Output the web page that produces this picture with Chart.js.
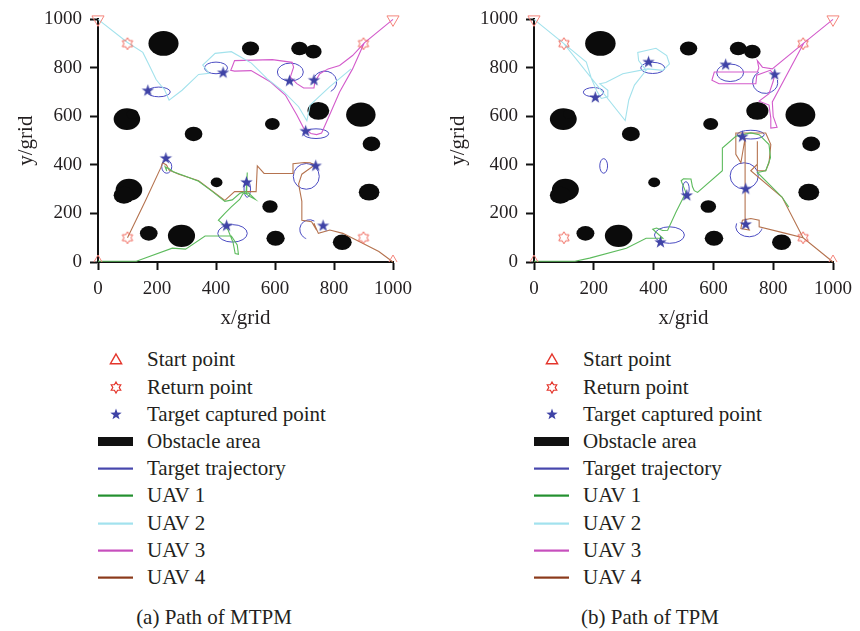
<!DOCTYPE html>
<html>
<head>
<meta charset="utf-8">
<script src="https://cdn.jsdelivr.net/npm/chart.js@4/dist/chart.umd.min.js"></script>
<style>
body{margin:0;background:#fff;}
#wrap{position:relative;width:860px;height:631px;font-family:"Liberation Serif",serif;color:#231f20;overflow:hidden;}
.box{position:absolute;top:0;}
.leg{position:absolute;top:0;font-size:21px;}
.row{position:absolute;left:0;height:27px;white-space:nowrap;}
.row canvas{position:absolute;left:0;top:0;}
.row span{position:absolute;left:49px;top:0;line-height:27px;}
.cap{position:absolute;top:603px;width:300px;text-align:center;font-size:21px;line-height:28px;}
</style>
</head>
<body>
<div id="wrap">
  <div class="box" style="left:0;width:420px;height:340px"><canvas id="mtpm" width="420" height="340"></canvas></div>
  <div class="box" style="left:430px;width:430px;height:340px"><canvas id="tpm" width="430" height="340"></canvas></div>
  <div class="leg" id="legA" style="left:98px"></div>
  <div class="leg" id="legB" style="left:534px"></div>
  <div class="cap" style="left:64px">(a) Path of MTPM</div>
  <div class="cap" style="left:500px">(b) Path of TPM</div>
</div>
<script>
// ---- 축 눈금
const axisTicks = [0, 200, 400, 600, 800, 1000];

// ---- 공통 지점
const startPts = [[0, 1000], [1000, 1000], [0, 0], [1000, 0]];
const startRot = [180, 180, 0, 0];
const returnPts = [[100, 900], [900, 900], [100, 100], [900, 100]];

// 장애물 [x, y, 반지름]
const obstacles = [
  [222, 901, 51], [517, 880, 29], [683, 880, 28], [730, 867, 28],
  [98, 589, 45], [117, 609, 20], [324, 528, 30], [591, 569, 25],
  [747, 623, 37], [891, 607, 50], [927, 487, 30], [402, 328, 20],
  [105, 298, 45], [88, 275, 35], [583, 229, 26], [919, 288, 35],
  [172, 118, 30], [283, 108, 46], [602, 98, 31], [828, 81, 32]
];

// ---- (a) MTPM
// 목표 궤적 [x, y, rx, ry, 시작각, 끝각]
const mtpmTargets = [
  [206, 701, 39, 20, 0, 360], [400, 800, 39, 24, 0, 360], [652, 783, 44, 37, 0, 360],
  [769, 742, 40, 45, -60, 150], [739, 529, 43, 20, 0, 360], [233, 393, 17, 27, 0, 360],
  [506, 301, 11, 34, 0, 360], [456, 118, 50, 36, 0, 360], [706, 353, 44, 53, 0, 360],
  [717, 134, 33, 40, 60, 250]
];
const mtpmCaptured = [[169, 706], [424, 780], [649, 746], [732, 749], [704, 539],
  [230, 427], [503, 328], [436, 149], [738, 396], [763, 149]];
const mtpmUav1 = [[0, 3], [130, 3], [252, 57], [297, 53], [363, 107], [452, 107], [472, 70], [476, 32],
  [465, 35], [458, 80], [441, 132], [420, 160], [408, 172], [430, 200], [452, 227], [480, 258],
  [491, 281], [510, 285], [533, 258], [515, 270], [502, 281], [506, 369], [504, 292], [482, 284],
  [455, 256], [430, 250], [386, 292], [341, 333], [290, 357], [255, 372], [240, 385], [230, 390],
  [233, 375], [226, 398]];
const mtpmUav2 = [[0, 1000], [100, 905], [152, 864], [174, 810], [197, 752], [205, 740], [215, 725],
  [225, 712], [241, 667], [285, 708], [341, 773], [377, 778], [355, 812], [397, 860], [452, 867],
  [520, 820], [574, 755], [630, 701], [680, 640], [708, 582], [719, 647], [785, 722], [858, 796]];
const mtpmUav3 = [[1000, 1000], [902, 902], [863, 796], [819, 701], [785, 606], [758, 532], [741, 525],
  [722, 530], [697, 552], [674, 606], [635, 688], [585, 742], [519, 789], [463, 787], [450, 790],
  [455, 805], [463, 830], [591, 834], [658, 823], [663, 803], [652, 762], [674, 735], [697, 717],
  [732, 717], [735, 742], [752, 776], [780, 796], [819, 810], [863, 851], [902, 902]];
const mtpmUav4 = [[100, 100], [160, 250], [213, 389], [219, 409], [232, 400], [241, 379], [274, 362],
  [341, 335], [430, 254], [463, 290], [536, 290], [540, 396], [563, 365], [658, 365], [661, 405],
  [700, 410], [719, 409], [735, 400], [691, 362], [680, 321], [691, 250], [691, 172], [724, 166],
  [741, 131], [732, 160], [747, 118], [786, 132], [830, 118], [897, 77], [952, 43], [1000, 0]];

// ---- (b) TPM
const tpmTargets = [
  [199, 700, 34, 19, 0, 360], [397, 800, 40, 23, 0, 360], [656, 780, 45, 36, 0, 360],
  [773, 742, 42, 47, 120, 370], [725, 525, 45, 18, 0, 360], [233, 396, 13, 30, 0, 360],
  [508, 301, 11, 30, 0, 360], [453, 111, 50, 34, 0, 360], [703, 355, 47, 54, 0, 360],
  [719, 145, 44, 41, 160, 350]
];
const tpmCaptured = [[383, 824], [205, 678], [641, 813], [805, 772], [697, 516],
  [708, 301], [708, 155], [511, 274], [423, 81]];
const tpmUav1 = [[0, 3], [137, 3], [186, 16], [309, 57], [375, 98], [431, 98], [397, 135], [410, 140],
  [430, 130], [447, 131], [475, 206], [497, 260], [508, 287], [497, 320], [492, 335], [500, 343],
  [525, 342], [530, 310], [536, 294], [547, 287], [630, 376], [630, 470], [675, 518], [725, 532],
  [753, 525], [786, 484], [791, 430], [775, 376], [747, 369], [830, 267], [852, 226]];
const tpmUav2 = [[0, 1000], [100, 900], [305, 583], [317, 668], [336, 729], [375, 790], [350, 830],
  [347, 864], [408, 881], [444, 851], [453, 817], [431, 790], [381, 796], [297, 776], [240, 740],
  [220, 735], [247, 708], [247, 681], [225, 674], [210, 705], [192, 756], [175, 824], [100, 900]];
const tpmUav3 = [[1000, 1000], [902, 902], [797, 796], [764, 803], [747, 830], [752, 800], [747, 783],
  [603, 783], [595, 749], [619, 735], [742, 735], [745, 770], [790, 790], [805, 772], [800, 745],
  [786, 694], [753, 663], [786, 647], [792, 593], [792, 552], [813, 555], [800, 600], [797, 660],
  [902, 902]];
const tpmUav4 = [[1000, 0], [900, 100], [842, 118], [753, 145], [753, 172], [725, 179], [697, 172],
  [692, 138], [720, 132], [706, 160], [706, 300], [706, 416], [706, 511], [692, 409], [675, 444],
  [675, 532], [775, 532], [792, 484], [786, 409], [775, 376], [747, 376], [747, 498], [747, 403],
  [725, 376], [830, 267], [900, 100]];

// ---- 범례
const legendLabels = ['Start point', 'Return point', 'Target captured point', 'Obstacle area',
  'Target trajectory', 'UAV 1', 'UAV 2', 'UAV 3', 'UAV 4'];
const legendKinds = ['start', 'return', 'star', 'block', 'line', 'line', 'line', 'line', 'line'];
const legendColors = ['#e4352b', '#e4352b', '#3f43a6', '#111111', '#4747ad', '#23902f', '#a2e2ee', '#c74fbd', '#8b3a1b'];

const uavColors = ['#5dbb5d', '#a3e2ec', '#d35bcb', '#b5734f'];
const font = 'Liberation Serif';
const textColor = '#231f20';

function pts(a) {
  return a.map(p => ({x: p[0], y: p[1]}));
}

function starPath(g, cx, cy, n, R, r) {
  g.beginPath();
  for (let i = 0; i < 2 * n; i++) {
    const a = -Math.PI / 2 + i * Math.PI / n;
    const rr = i % 2 ? r : R;
    g.lineTo(cx + rr * Math.cos(a), cy + rr * Math.sin(a));
  }
  g.closePath();
}

function markerImg(n, R, r, fill, stroke, lw) {
  const c = document.createElement('canvas');
  const s = Math.ceil(2 * R + 2 * lw + 2);
  c.width = s; c.height = s;
  const g = c.getContext('2d');
  starPath(g, s / 2, s / 2, n, R, r);
  if (fill) { g.fillStyle = fill; g.fill(); }
  if (stroke) { g.strokeStyle = stroke; g.lineWidth = lw; g.stroke(); }
  return c;
}

const starImg = markerImg(5, 6.5, 2.6, '#3f43a6', null, 0);
const hexImg = markerImg(6, 6, 3.5, null, '#f06a5e', 1);

// 장애물과 목표 궤적은 축 스케일을 통해 타원으로 그림
const areaPlugin = {
  id: 'areas',
  beforeDatasetsDraw(chart, args, opts) {
    const ctx = chart.ctx;
    const xs = chart.scales.x, ys = chart.scales.y;
    ctx.save();
    ctx.fillStyle = '#0b0b0b';
    opts.obstacles.forEach(o => {
      const cx = xs.getPixelForValue(o[0]), cy = ys.getPixelForValue(o[1]);
      const rx = xs.getPixelForValue(o[0] + o[2]) - cx;
      const ry = cy - ys.getPixelForValue(o[1] + o[2]);
      ctx.beginPath();
      ctx.ellipse(cx, cy, rx, ry, 0, 0, Math.PI * 2);
      ctx.fill();
    });
    ctx.strokeStyle = '#4b4cc2';
    ctx.lineWidth = 1;
    opts.targets.forEach(t => {
      const cx = xs.getPixelForValue(t[0]), cy = ys.getPixelForValue(t[1]);
      const rx = xs.getPixelForValue(t[0] + t[2]) - cx;
      const ry = cy - ys.getPixelForValue(t[1] + t[3]);
      ctx.beginPath();
      ctx.ellipse(cx, cy, rx, ry, 0, -t[4] * Math.PI / 180, -t[5] * Math.PI / 180, true);
      ctx.stroke();
    });
    ctx.restore();
  }
};

function makeChart(id, captured, targets, uavs, yWidth, padRight, titlePad) {
  const datasets = [
    {data: pts(captured), pointStyle: starImg, showLine: false},
    {data: pts(returnPts), pointStyle: hexImg, showLine: false},
    {data: pts(startPts), pointStyle: 'triangle', pointRotation: startRot, pointRadius: 7,
      borderColor: '#f4857c', backgroundColor: 'rgba(0,0,0,0)', borderWidth: 1, showLine: false,
      clip: {left: 10, top: 10, right: 10, bottom: 0}}
  ];
  uavs.forEach((u, i) => {
    datasets.push({data: pts(u), showLine: true, borderColor: uavColors[i], borderWidth: 1.1,
      pointRadius: 0, tension: 0, clip: 4});
  });
  return new Chart(document.getElementById(id), {
    type: 'scatter',
    data: {datasets: datasets},
    options: {
      responsive: false,
      animation: false,
      devicePixelRatio: 1,
      layout: {padding: {left: 0, top: 17, right: padRight, bottom: 0}},
      plugins: {
        legend: {display: false},
        tooltip: {enabled: false},
        areas: {obstacles: obstacles, targets: targets}
      },
      scales: {
        x: {
          type: 'linear', min: 0, max: 1000,
          afterBuildTicks: s => { s.ticks = axisTicks.map(v => ({value: v})); },
          afterFit: s => { s.height = 78; },
          grid: {drawOnChartArea: false, drawTicks: true, tickLength: 8, tickWidth: 2, tickColor: '#111'},
          border: {display: true, color: '#111', width: 2},
          ticks: {color: textColor, font: {family: font, size: 19}, padding: 8, maxRotation: 0,
            callback: v => String(v)},
          title: {display: true, text: 'x/grid', color: textColor, font: {family: font, size: 21},
            padding: {top: 0, bottom: 9}}
        },
        y: {
          type: 'linear', min: 0, max: 1000,
          afterBuildTicks: s => { s.ticks = axisTicks.map(v => ({value: v})); },
          afterFit: s => { s.width = yWidth; },
          grid: {drawOnChartArea: false, drawTicks: true, tickLength: 8, tickWidth: 2, tickColor: '#111'},
          border: {display: true, color: '#111', width: 2},
          ticks: {color: textColor, font: {family: font, size: 19}, padding: 8,
            callback: v => String(v)},
          title: {display: true, text: 'y/grid', color: textColor, font: {family: font, size: 21},
            padding: {top: titlePad, bottom: 0}}
        }
      }
    },
    plugins: [areaPlugin]
  });
}

function buildLegend(id) {
  const box = document.getElementById(id);
  legendLabels.forEach((label, i) => {
    const row = document.createElement('div');
    row.className = 'row';
    row.style.top = (346.4 + 27.2 * i) + 'px';
    const c = document.createElement('canvas');
    c.width = 36; c.height = 27;
    const g = c.getContext('2d');
    const kind = legendKinds[i], col = legendColors[i];
    if (kind === 'start') {
      starPath(g, 18, 14.5, 3, 6.5, 3.25);
      g.strokeStyle = col; g.lineWidth = 1.4; g.stroke();
    } else if (kind === 'return') {
      starPath(g, 18, 13.5, 6, 5.5, 3.2);
      g.strokeStyle = col; g.lineWidth = 1.2; g.stroke();
    } else if (kind === 'star') {
      starPath(g, 18, 13.5, 5, 6, 2.4);
      g.fillStyle = col; g.fill();
    } else if (kind === 'block') {
      g.fillStyle = col; g.fillRect(0, 9, 35, 9);
    } else {
      g.fillStyle = col; g.fillRect(0, 12.5, 35, 2.2);
    }
    row.appendChild(c);
    const sp = document.createElement('span');
    sp.textContent = label;
    row.appendChild(sp);
    box.appendChild(row);
  });
}

makeChart('mtpm', mtpmCaptured, mtpmTargets, [mtpmUav1, mtpmUav2, mtpmUav3, mtpmUav4], 98, 22, 14);
makeChart('tpm', tpmCaptured, tpmTargets, [tpmUav1, tpmUav2, tpmUav3, tpmUav4], 104, 26, 16);
buildLegend('legA');
buildLegend('legB');
</script>
</body>
</html>
